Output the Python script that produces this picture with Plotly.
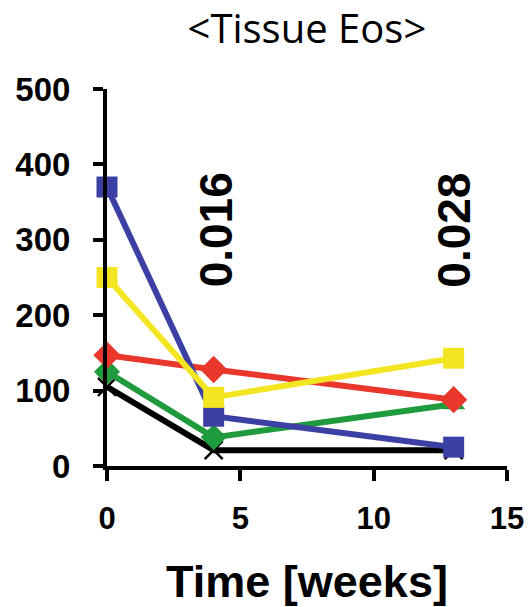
import plotly.graph_objects as go

weeks = [0, 4, 13]
blue = [370, 66, 25]
yellow = [250, 91, 143]
red = [147, 128, 88]
green = [125, 38, 82]
black = [105, 21, 21]

pvals = ["0.016", "0.028"]
pval_x = [4.1, 13]
pval_y = [313, 313]

series = [
    ("black", black, "#000000", "x-thin-open", 18),
    ("green", green, "#1f9a3d", ["diamond", "diamond", "triangle-up"], 20),
    ("red", red, "#e9372b", "diamond", 21),
    ("blue", blue, "#3c3fa3", "square", 21),
    ("yellow", yellow, "#f3e521", "square", 21),
]

fig = go.Figure()
for name, vals, col, sym, sz in series:
    marker = dict(symbol=sym, size=sz, color=col)
    if sym == "x-thin-open":
        marker["line"] = dict(color=col, width=2.5)
    fig.add_trace(go.Scatter(
        x=weeks, y=vals, mode="lines+markers", name=name,
        line=dict(color=col, width=6), marker=marker, cliponaxis=False,
    ))

for t, x, y in zip(pvals, pval_x, pval_y):
    fig.add_annotation(x=x, y=y, text=t, textangle=-90, showarrow=False,
                       font=dict(family="Liberation Sans, Arial", size=46, color="black", weight="bold"),
                       xref="x", yref="y")

ytick_font = dict(family="Liberation Sans, Arial", size=33, color="black", weight="bold")
xtick_font = dict(family="Liberation Sans, Arial", size=31, color="black", weight="bold")
fig.update_layout(
    width=531, height=607,
    margin=dict(l=107, r=24, t=89, b=141),
    paper_bgcolor="white", plot_bgcolor="white",
    showlegend=False,
    title=dict(text="&lt;Tissue Eos&gt;", x=0.578, xanchor="center", y=0.953, yanchor="middle",
               font=dict(family="Open Sans", size=40, color="black")),
    xaxis=dict(range=[0, 15], tickvals=[0, 5, 10, 15], showgrid=False, zeroline=False,
               showline=True, linecolor="black", linewidth=4, automargin=False,
               ticks="outside", ticklen=11, tickwidth=4, tickcolor="black",
               tickfont=xtick_font, ticklabelstandoff=11,
               title=dict(text="Time [weeks]", standoff=40,
                          font=dict(family="Liberation Sans, Arial", size=45, color="black", weight="bold"))),
    yaxis=dict(range=[0, 500], tickvals=[0, 100, 200, 300, 400, 500], showgrid=False, zeroline=False,
               showline=True, linecolor="black", linewidth=4, automargin=False,
               ticks="outside", ticklen=10, tickwidth=4, tickcolor="black",
               tickfont=ytick_font, ticklabelstandoff=16),
)

fig.write_html("out.html", config={"displayModeBar": False},
               post_script="document.body.style.margin='0';")
